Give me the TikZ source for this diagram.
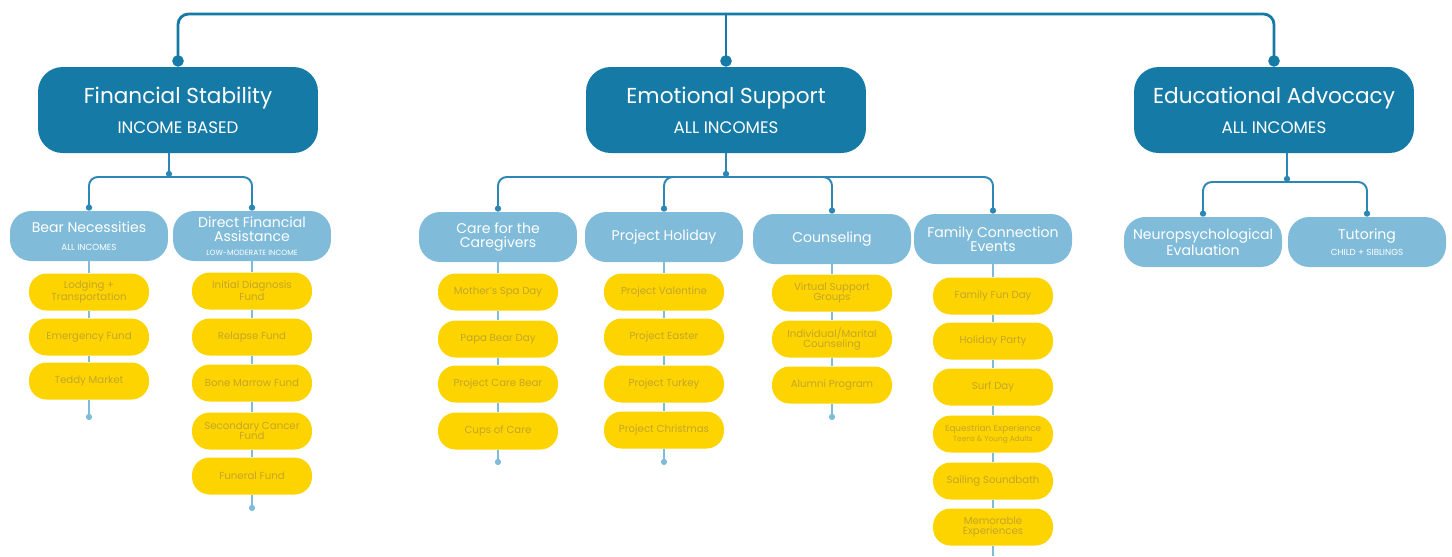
\documentclass[tikz,border=0pt]{standalone}
\usepackage{fontspec}
\setmainfont{Poppins}
\usetikzlibrary{arrows.meta,positioning}

\definecolor{deepblue}{RGB}{22,122,166}
\definecolor{midblue}{RGB}{45,135,181}
\definecolor{skyblue}{RGB}{128,188,218}
\definecolor{sunyellow}{RGB}{253,212,0}
\definecolor{goldtext}{RGB}{196,166,40}

\newcommand\headtag{\fontsize{9.5}{10}\selectfont}
\newcommand\subtag{\fontsize{5}{5.5}\selectfont}

\tikzset{
  topbox/.style={fill=deepblue, text=white, rounded corners=14pt,
    minimum width=5.6cm, minimum height=1.72cm, align=center,
    font=\fontsize{12.3}{13}\selectfont},
  subbox/.style={fill=skyblue, text=white, rounded corners=12pt,
    minimum width=3.16cm, minimum height=1cm, inner sep=1pt, align=center,
    font=\fontsize{8}{8}\selectfont},
  item/.style={fill=sunyellow, text=goldtext, rounded corners=10pt,
    minimum width=2.4cm, minimum height=0.74cm, inner sep=1pt, align=center,
    font=\fontsize{5.8}{5.8}\selectfont},
  mainline/.style={draw=deepblue, line width=1.6pt, rounded corners=6pt},
  midline/.style={draw=midblue, line width=1.1pt, rounded corners=5pt},
  stemline/.style={draw=skyblue, line width=0.7pt},
  bigdot/.style={-{Circle[length=6.5pt]}},
  smalldot/.style={-{Circle[length=3.5pt]}},
}

\begin{document}
\begin{tikzpicture}[x=0.02cm, y=-0.02cm]
\useasboundingbox (0,0) rectangle (1452,556);

% top level
\node[topbox] (fin) at (178,110) {Financial Stability\\[4pt]{\headtag INCOME BASED}};
\node[topbox] (emo) at (726,110) {Emotional Support\\[4pt]{\headtag ALL INCOMES}};
\node[topbox] (edu) at (1274,110) {Educational Advocacy\\[4pt]{\headtag ALL INCOMES}};

\coordinate (top) at (726,14);
\draw[mainline, bigdot] (top) -| (fin.north);
\draw[mainline, bigdot] (top) -| (edu.north);
\draw[mainline, bigdot] (top) -- (emo.north);

% second level
\node[subbox] (bear) at (89,236) {Bear Necessities\\[2pt]{\subtag ALL INCOMES}};
\node[subbox] (direct) at (252,236) {Direct Financial\\Assistance\\{\fontsize{4.3}{5}\selectfont LOW-MODERATE INCOME}};
\node[subbox] (care) at (498,237) {Care for the\\Caregivers};
\node[subbox] (holiday) at (664,237) {Project Holiday};
\node[subbox] (couns) at (832,239) {Counseling};
\node[subbox] (family) at (993,239) {Family Connection\\Events};
\node[subbox] (neuro) at (1203,242) {Neuropsychological\\Evaluation};
\node[subbox] (tutor) at (1367,242) {Tutoring\\[1pt]{\subtag CHILD + SIBLINGS}};

% junctions
\coordinate (jF) at (169,177);
\coordinate (jM) at (726,177);
\coordinate (jE) at (1287,182);
\draw[midline, smalldot] (fin.south -| jF) -- (jF);
\draw[midline, smalldot] (emo.south -| jM) -- (jM);
\draw[midline, smalldot] (edu.south -| jE) -- (jE);
\draw[midline, smalldot] (jF) -| (bear.north);
\draw[midline, smalldot] (jF) -| (direct.north);
\draw[midline, smalldot] (jM) -| (care.north);
\draw[midline, smalldot] (jM) -| (holiday.north);
\draw[midline, smalldot] (jM) -| (couns.north);
\draw[midline, smalldot] (jM) -| (family.north);
\draw[midline, smalldot] (jE) -| (neuro.north);
\draw[midline, smalldot] (jE) -| (tutor.north);

% programs
\foreach \yy/\txt [count=\i] in {292/{Lodging +\\Transportation}, 337/Emergency Fund, 381/Teddy Market}
  \node[item] (bn\i) at (89,\yy) {\txt};
\foreach \yy/\txt [count=\i] in {291/{Initial Diagnosis\\Fund}, 337/Relapse Fund, 383/Bone Marrow Fund,
    431/{Secondary Cancer\\Fund}, 476/Funeral Fund}
  \node[item] (df\i) at (252,\yy) {\txt};
\foreach \yy/\txt [count=\i] in {292/Mother's Spa Day, 339/Papa Bear Day, 384/Project Care Bear, 431/Cups of Care}
  \node[item] (cc\i) at (498,\yy) {\txt};
\foreach \yy/\txt [count=\i] in {292/Project Valentine, 337/Project Easter, 384/Project Turkey, 430/Project Christmas}
  \node[item] (ph\i) at (664,\yy) {\txt};
\foreach \yy/\txt [count=\i] in {293/{Virtual Support\\Groups}, 339/{Individual/Marital\\Counseling}, 385/Alumni Program}
  \node[item] (co\i) at (832,\yy) {\txt};
\foreach \yy/\txt [count=\i] in {296/Family Fun Day, 341/Holiday Party, 387/Surf Day,
    434/{{\fontsize{5}{5.5}\selectfont Equestrian Experience}\\{\fontsize{4.2}{5}\selectfont Teens \& Young Adults}},
    481/Sailing Soundbath, 527/{Memorable\\Experiences}}
  \node[item] (fc\i) at (993,\yy) {\txt};

% stems
\coordinate (bnE) at (89,420);
\coordinate (dfE) at (252,511);
\coordinate (ccE) at (498,465);
\coordinate (phE) at (664,465);
\coordinate (coE) at (832,420);
\coordinate (fcE) at (993,556);
\draw[stemline, smalldot] (bear) -- (bn1) -- (bn2) -- (bn3) -- (bnE);
\draw[stemline, smalldot] (direct) -- (df1) -- (df2) -- (df3) -- (df4) -- (df5) -- (dfE);
\draw[stemline, smalldot] (care) -- (cc1) -- (cc2) -- (cc3) -- (cc4) -- (ccE);
\draw[stemline, smalldot] (holiday) -- (ph1) -- (ph2) -- (ph3) -- (ph4) -- (phE);
\draw[stemline, smalldot] (couns) -- (co1) -- (co2) -- (co3) -- (coE);
\draw[stemline] (family) -- (fc1) -- (fc2) -- (fc3) -- (fc4) -- (fc5) -- (fc6) -- (fcE);
\end{tikzpicture}
\end{document}
